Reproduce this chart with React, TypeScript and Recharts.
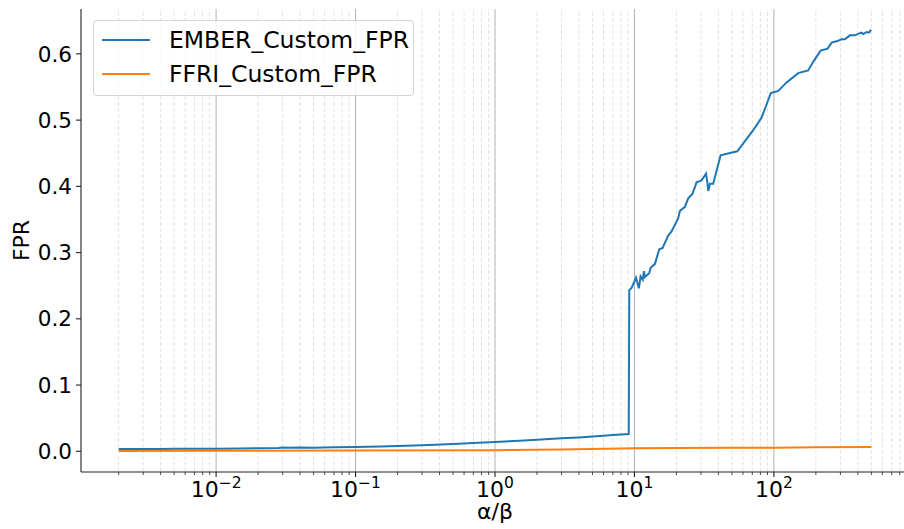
import React from "react";
import { LineChart, Line, XAxis, YAxis, ReferenceLine } from "recharts";

// ---- data ----
const emberAlphaBeta = [
  0.002, 0.003, 0.004, 0.005, 0.007, 0.01, 0.015, 0.02, 0.028, 0.03, 0.033, 0.04, 0.05, 0.07,
  0.1, 0.15, 0.2, 0.3, 0.5, 0.7, 1.0, 1.5, 2, 3, 4, 5, 6, 7, 8, 9.1,
  9.18, 9.55, 10.26, 10.76, 11.07, 11.46, 11.69, 11.89, 12.76, 13.06, 14.03, 15.07, 15.92,
  17.5, 18.45, 20.6, 21.2, 23.0, 24.3, 26.1, 27.9, 30.3, 32.6, 33.3, 33.8, 34.8, 36.7,
  41.5, 54.6, 71.1, 81.7, 95.1, 107.4, 123.3, 149.3, 176.2, 191.4, 216.3, 242.7, 259.4,
  281.8, 305.5, 322.8, 350.8, 381.1, 409.3, 425.6, 436.5, 461.3, 482, 490, 500,
];
const emberFpr = [
  0.0035, 0.0036, 0.0034, 0.0037, 0.0038, 0.004, 0.0042, 0.0045, 0.005, 0.0058, 0.0052, 0.0056, 0.0055, 0.006,
  0.0065, 0.0072, 0.008, 0.0092, 0.011, 0.0125, 0.014, 0.016, 0.0175, 0.0195, 0.021, 0.0225, 0.0235, 0.0245, 0.0255, 0.0262,
  0.243, 0.247, 0.262, 0.246, 0.264, 0.259, 0.272, 0.263, 0.269, 0.277, 0.283, 0.305, 0.307,
  0.326, 0.332, 0.352, 0.363, 0.369, 0.382, 0.389, 0.406, 0.409, 0.419, 0.407, 0.393, 0.404, 0.404,
  0.447, 0.453, 0.485, 0.504, 0.541, 0.544, 0.557, 0.571, 0.575, 0.588, 0.605, 0.608, 0.617,
  0.619, 0.622, 0.622, 0.628, 0.628, 0.631, 0.632, 0.63, 0.633, 0.632, 0.635, 0.636,
];
const ffriAlphaBeta = [0.002, 0.01, 0.1, 1, 3, 10, 20, 50, 100, 200, 500];
const ffriFpr = [0.0005, 0.0007, 0.001, 0.0015, 0.0028, 0.0045, 0.005, 0.0052, 0.0055, 0.006, 0.0065];

const majorTicks = [0.01, 0.1, 1, 10, 100];
const minorTicks = [
  0.002, 0.003, 0.004, 0.005, 0.006, 0.007, 0.008, 0.009,
  0.02, 0.03, 0.04, 0.05, 0.06, 0.07, 0.08, 0.09,
  0.2, 0.3, 0.4, 0.5, 0.6, 0.7, 0.8, 0.9,
  2, 3, 4, 5, 6, 7, 8, 9,
  20, 30, 40, 50, 60, 70, 80, 90,
  200, 300, 400, 500, 600, 700, 800, 900,
];
const yTicks = [0, 0.1, 0.2, 0.3, 0.4, 0.5, 0.6];
const seriesNames = ["EMBER_Custom_FPR", "FFRI_Custom_FPR"];
const colors = ["#1f77b4", "#ff7f0e"];

const emberData = emberAlphaBeta.map((x, i) => ({ x, y: emberFpr[i] }));
const ffriData = ffriAlphaBeta.map((x, i) => ({ x, y: ffriFpr[i] }));

const FONT = "'DejaVu Sans', sans-serif";

// axis domains with matplotlib-like 5% margins
const logMin = Math.log10(0.002);
const logMax = Math.log10(500);
const lpad = (logMax - logMin) * 0.05;
const xDomain = [Math.pow(10, logMin - lpad), Math.pow(10, logMax + lpad)];
const allY = [...emberFpr, ...ffriFpr];
const yMin = Math.min(...allY);
const yMax = Math.max(...allY);
const ypad = (yMax - yMin) * 0.05;
const yDomain = [yMin - ypad, yMax + ypad];

const allTicks = [...majorTicks, ...minorTicks].sort((a, b) => a - b);

const XTick = (props: any) => {
  const { x, y, payload } = props;
  const v = payload.value;
  const lg = Math.log10(v);
  const exp = Math.round(lg);
  const major = Math.abs(lg - exp) < 1e-6;
  return (
    <g>
      <line x1={x} x2={x} y1={y} y2={y + (major ? 5 : 3)} stroke="#222" strokeWidth={major ? 1.1 : 0.8} />
      {major && (
        <text x={x} y={y + 24.5} textAnchor="middle" fontSize={22} fontFamily={FONT} fill="#000">
          10
          <tspan dy={-9} fontSize={15.5}>
            {exp < 0 ? "\u2212" + -exp : String(exp)}
          </tspan>
        </text>
      )}
    </g>
  );
};

const XLabel = (props: any) => {
  const vb = props.viewBox || { x: 81, y: 472, width: 828, height: 57 };
  return (
    <text x={vb.x + vb.width / 2} y={vb.y + 47} textAnchor="middle" fontSize={22} fontFamily={FONT} fill="#000">
      α/β
    </text>
  );
};

const YLabel = (props: any) => {
  const vb = props.viewBox || { x: 0, y: 9, width: 81, height: 463 };
  const cy = vb.y + vb.height / 2;
  const cx = 21;
  return (
    <text
      x={cx}
      y={cy}
      transform={`rotate(-90, ${cx}, ${cy})`}
      textAnchor="middle"
      dominantBaseline="central"
      fontSize={22}
      fontFamily={FONT}
      fill="#000"
    >
      FPR
    </text>
  );
};

export default function App() {
  return (
    <div style={{ position: "absolute", left: 0, top: 0, width: 904, height: 529, overflow: "hidden", background: "#fff" }}>
      <LineChart width={920} height={529} margin={{ top: 9, right: 11, bottom: 0, left: 0 }}>
        <XAxis
          dataKey="x"
          type="number"
          scale="log"
          domain={xDomain}
          allowDataOverflow
          ticks={allTicks}
          interval={0}
          tick={<XTick />}
          tickLine={false}
          tickSize={0}
          tickMargin={0}
          height={57}
          axisLine={{ stroke: "#222", strokeWidth: 1.1 }}
          label={<XLabel />}
        />
        <YAxis
          dataKey="y"
          type="number"
          domain={yDomain}
          allowDataOverflow
          ticks={yTicks}
          interval={0}
          width={81}
          tickFormatter={(v: number) => v.toFixed(1)}
          tick={{ fontSize: 21.5, fill: "#000", fontFamily: FONT }}
          tickSize={5}
          tickMargin={4}
          tickLine={{ stroke: "#222", strokeWidth: 1.1 }}
          axisLine={{ stroke: "#222", strokeWidth: 1.1 }}
          label={<YLabel />}
        />
        {minorTicks.map((t) => (
          <ReferenceLine key={"mn" + t} x={t} stroke="#dddddd" strokeWidth={0.8} strokeDasharray="4 2" zIndex={-100} />
        ))}
        {majorTicks.map((t) => (
          <ReferenceLine key={"mj" + t} x={t} stroke="#b0b0b0" strokeWidth={1} zIndex={-100} />
        ))}
        <Line
          data={emberData}
          dataKey="y"
          name={seriesNames[0]}
          type="linear"
          stroke={colors[0]}
          strokeWidth={2}
          dot={false}
          isAnimationActive={false}
        />
        <Line
          data={ffriData}
          dataKey="y"
          name={seriesNames[1]}
          type="linear"
          stroke={colors[1]}
          strokeWidth={2}
          dot={false}
          isAnimationActive={false}
        />
      </LineChart>
      <div
        style={{
          position: "absolute",
          left: 93,
          top: 20,
          width: 319,
          height: 74,
          border: "1px solid #d4d4d4",
          borderRadius: 4,
          background: "rgba(255,255,255,0.8)",
          fontFamily: FONT,
          fontSize: 23.5,
          color: "#000",
        }}
      >
        {seriesNames.map((n, i) => (
          <div key={n} style={{ position: "absolute", left: 0, top: i === 0 ? 4 : 38, height: 30, width: 319 }}>
            <div style={{ position: "absolute", left: 8, top: 14, width: 48, height: 0, borderTop: `2px solid ${colors[i]}` }} />
            <div style={{ position: "absolute", left: 75, top: 0, lineHeight: "30px", whiteSpace: "nowrap" }}>{n}</div>
          </div>
        ))}
      </div>
    </div>
  );
}
